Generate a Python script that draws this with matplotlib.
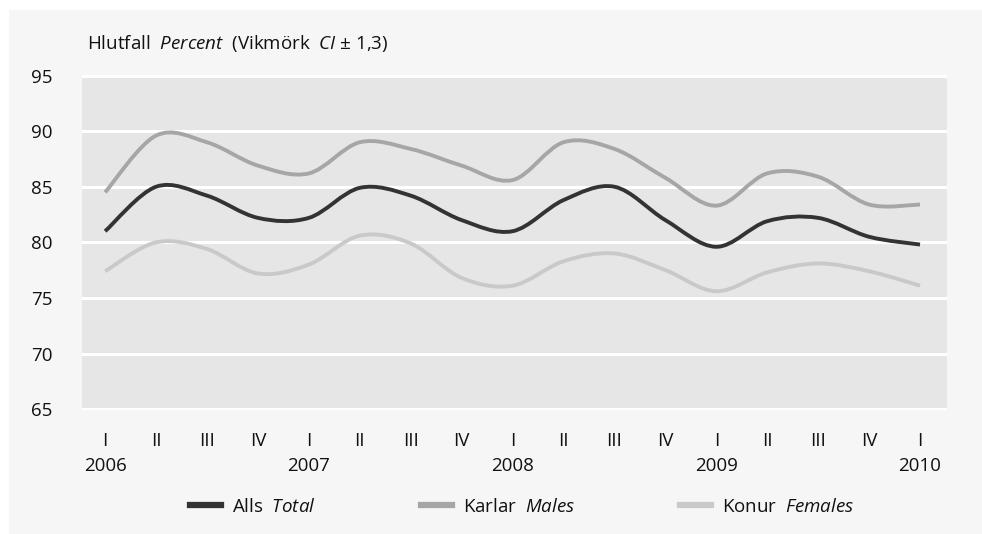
import matplotlib
matplotlib.use("Agg")
import matplotlib.pyplot as plt
from matplotlib.path import Path
from matplotlib.patches import PathPatch, Rectangle
from matplotlib.lines import Line2D

plt.rcParams['font.family'] = ['Open Sans', 'DejaVu Sans']
plt.rcParams['mathtext.fontset'] = 'custom'
plt.rcParams['mathtext.rm'] = 'Open Sans'
plt.rcParams['mathtext.it'] = 'Open Sans:italic'

quarters = ["I", "II", "III", "IV"] * 4 + ["I"]
years = ["2006", "", "", "", "2007", "", "", "", "2008", "", "", "",
         "2009", "", "", "", "2010"]

total = [81.0, 85.0, 84.2, 82.2, 82.2, 84.9, 84.2, 82.0,
         81.0, 83.8, 85.0, 82.0, 79.6, 81.9, 82.2, 80.5, 79.8]
males = [84.5, 89.6, 89.0, 86.9, 86.2, 89.0, 88.4, 86.9,
         85.6, 89.0, 88.4, 85.8, 83.3, 86.2, 85.9, 83.4, 83.4]
females = [77.4, 80.0, 79.4, 77.2, 78.0, 80.6, 79.9, 76.8,
           76.1, 78.3, 79.0, 77.5, 75.6, 77.3, 78.1, 77.4, 76.1]

series = [("Alls  $\\mathit{Total}$", total, "#333333"),
          ("Karlar  $\\mathit{Males}$", males, "#a6a6a6"),
          ("Konur  $\\mathit{Females}$", females, "#c9c9c9")]


def smooth_path(ys):
    # Excel-style smoothed line: cubic bezier through each point
    xs = list(range(len(ys)))
    pts = list(zip(xs, ys))
    verts = [pts[0]]
    codes = [Path.MOVETO]
    n = len(pts)
    for i in range(n - 1):
        p0 = pts[max(i - 1, 0)]
        p1 = pts[i]
        p2 = pts[i + 1]
        p3 = pts[min(i + 2, n - 1)]
        c1 = (p1[0] + (p2[0] - p0[0]) / 6, p1[1] + (p2[1] - p0[1]) / 6)
        c2 = (p2[0] - (p3[0] - p1[0]) / 6, p2[1] - (p3[1] - p1[1]) / 6)
        verts += [c1, c2, p2]
        codes += [Path.CURVE4] * 3
    return Path(verts, codes)


fig = plt.figure(figsize=(9.82, 5.34), dpi=100, facecolor="white")
fig.patches.append(Rectangle((9 / 982, 0), 1, 1 - 10 / 534, transform=fig.transFigure,
                             facecolor="#f6f6f6", edgecolor="none", zorder=-10))

ax = fig.add_axes([81.7 / 982, 1 - 410 / 534, (947 - 81.7) / 982, (410 - 75) / 534])
ax.set_facecolor("#e6e6e6")

for label, vals, col in series:
    ax.add_patch(PathPatch(smooth_path(vals), fill=False, edgecolor=col,
                           linewidth=2.8, capstyle="butt", zorder=3))

ax.set_xlim(-0.46, 16.53)
ax.set_ylim(64.92, 95.05)
ax.set_yticks([65, 70, 75, 80, 85, 90, 95])
ax.set_xticks(range(len(quarters)))
ax.set_xticklabels([q + "\n" + y for q, y in zip(quarters, years)], linespacing=1.45)
ax.grid(axis="y", color="white", linewidth=2.2, zorder=1)
ax.set_axisbelow(True)
for s in ax.spines.values():
    s.set_visible(False)
ax.tick_params(axis="both", length=0, labelsize=13.5, colors="#111111")
ax.tick_params(axis="y", pad=21)
ax.tick_params(axis="x", pad=16)

fig.text(87 / 982, 1 - 49 / 534, "Hlutfall  $\\mathit{Percent}$  (Vikmörk  $\\mathit{CI}$ ± 1,3)",
         fontsize=13.5, color="#111111", ha="left", va="baseline")

handles = [Line2D([], [], color=c, linewidth=4.5) for _, _, c in series]
fig.legend(handles, [l for l, _, _ in series], loc="center", ncol=3,
           bbox_to_anchor=(522 / 982, 1 - 507 / 534), frameon=False, fontsize=13.5,
           handlelength=1.65, handletextpad=0.6, columnspacing=5.6, labelcolor="#111111")

fig.savefig("out.png", dpi=100, facecolor=fig.get_facecolor())
